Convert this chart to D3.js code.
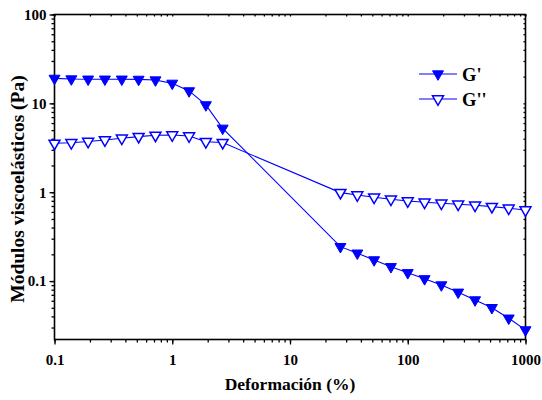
<!DOCTYPE html>
<html><head><meta charset="utf-8">
<script src="https://cdn.jsdelivr.net/npm/d3@7"></script>
<style>
body{margin:0;background:#fff;}
svg text{font-family:'Times New Roman','Liberation Serif','DejaVu Serif',serif;font-weight:700;}
</style></head>
<body><svg id="c" width="542" height="400"></svg>
<script>
const strain = [0.1,0.139,0.193,0.268,0.373,0.518,0.72,1,1.39,1.93,2.68,26.8,37.3,51.8,72,100,139,193,268,373,518,720,1000];
const gPrime = [19.1,18.8,18.7,18.7,18.7,18.6,18.3,16.8,13.8,9.6,5.24,0.244,0.206,0.173,0.145,0.124,0.106,0.0904,0.0748,0.0613,0.0502,0.0382,0.0282];
const gDouble = [3.55,3.6,3.72,3.87,4.05,4.22,4.37,4.41,4.3,3.7,3.62,0.99,0.931,0.877,0.833,0.797,0.771,0.751,0.732,0.713,0.688,0.66,0.631];
const xTicks = [0.1,1,10,100,1000];
const yTicks = [0.1,1,10,100];
const seriesNames = ["G'", "G''"];

const L=54.5, R=525.5, T=14.5, B=339.5;
const svg=d3.select("#c");
const x=d3.scaleLog().domain([0.1,1000]).range([L,R]);
const y=d3.scaleLog().domain([0.022,100]).range([B,T]);
const blue="#0000ff";
const FF="'Times New Roman','Liberation Serif','DejaVu Serif',serif";

function minors(dom){const a=[];for(let e=-3;e<=3;e++)for(let m=1;m<10;m++){const v=m*Math.pow(10,e);if(v>=dom[0]*0.999&&v<=dom[1]*1.001)a.push(v);}return a;}
const xm=minors([0.1,1000]), ym=minors([0.022,100]);
const fmt=d=>String(d);

const gx=svg.append("g").attr("transform",`translate(0,${B})`);
gx.call(d3.axisBottom(x).tickValues(xm).tickSize(3).tickFormat(""));
gx.call(g=>g.select(".domain").remove());
const gx2=svg.append("g").attr("transform",`translate(0,${B})`);
gx2.call(d3.axisBottom(x).tickValues(xTicks).tickSize(5).tickPadding(7).tickFormat(fmt));
gx2.selectAll("text").attr("font-size",15).attr("fill","#000").attr("dy","0.9em");
gx2.select(".domain").remove();
const gy=svg.append("g").attr("transform",`translate(${L},0)`);
gy.call(d3.axisLeft(y).tickValues(ym).tickSize(3).tickFormat(""));
gy.call(g=>g.select(".domain").remove());
const gy2=svg.append("g").attr("transform",`translate(${L},0)`);
gy2.call(d3.axisLeft(y).tickValues(yTicks).tickSize(5).tickPadding(3).tickFormat(fmt));
gy2.selectAll("text").attr("font-size",15).attr("fill","#000");
gy2.select(".domain").remove();
const gt=svg.append("g").attr("transform",`translate(0,${T})`);
gt.call(d3.axisTop(x).tickValues(xm).tickSize(-2).tickFormat(""));
gt.select(".domain").remove();
const gr=svg.append("g").attr("transform",`translate(${R},0)`);
gr.call(d3.axisRight(y).tickValues(ym).tickSize(-2).tickFormat(""));
gr.select(".domain").remove();
svg.selectAll(".tick line").attr("stroke","#000").attr("stroke-width",1.3);
svg.selectAll("g").attr("font-family",FF);
svg.append("rect").attr("x",L).attr("y",T).attr("width",R-L).attr("height",B-T)
  .attr("fill","none").attr("stroke","#000").attr("stroke-width",1.6);

const plot=svg.append("g");
const line=d3.line().x((d,i)=>x(strain[i])).y(d=>y(d));
const tri=d3.symbol().type(d3.symbolTriangle).size(52);

function drawSeries(vals,filled){
  plot.append("path").datum(vals).attr("d",line).attr("fill","none").attr("stroke",blue).attr("stroke-width",1.1);
  plot.selectAll(null).data(vals).enter().append("path")
    .attr("d",tri).attr("transform",(d,i)=>`translate(${x(strain[i])},${y(d)}) rotate(180)`)
    .attr("fill",filled?blue:"#fff").attr("stroke",blue).attr("stroke-width",filled?1:1.5);
}
drawSeries(gDouble,false);
drawSeries(gPrime,true);

const leg=[{n:seriesNames[0],f:true,y:74},{n:seriesNames[1],f:false,y:99}];
leg.forEach(d=>{
  svg.append("line").attr("x1",419).attr("x2",457).attr("y1",d.y).attr("y2",d.y).attr("stroke",blue).attr("stroke-width",1.1);
  svg.append("path").attr("d",tri).attr("transform",`translate(438,${d.y}) rotate(180)`)
    .attr("fill",d.f?blue:"#fff").attr("stroke",blue).attr("stroke-width",d.f?1:1.5);
  svg.append("text").attr("x",462).attr("y",d.y+7).attr("font-size",18.5).attr("font-family",FF).text(d.n);
});

svg.append("text").attr("x",290).attr("y",390).attr("text-anchor","middle").attr("font-size",17.5).attr("font-family",FF).text("Deformación (%)");
svg.append("text").attr("transform",`translate(24,189) rotate(-90)`).attr("text-anchor","middle").attr("font-size",19.5).attr("font-family",FF).text("Módulos viscoelásticos (Pa)");
</script></body></html>
